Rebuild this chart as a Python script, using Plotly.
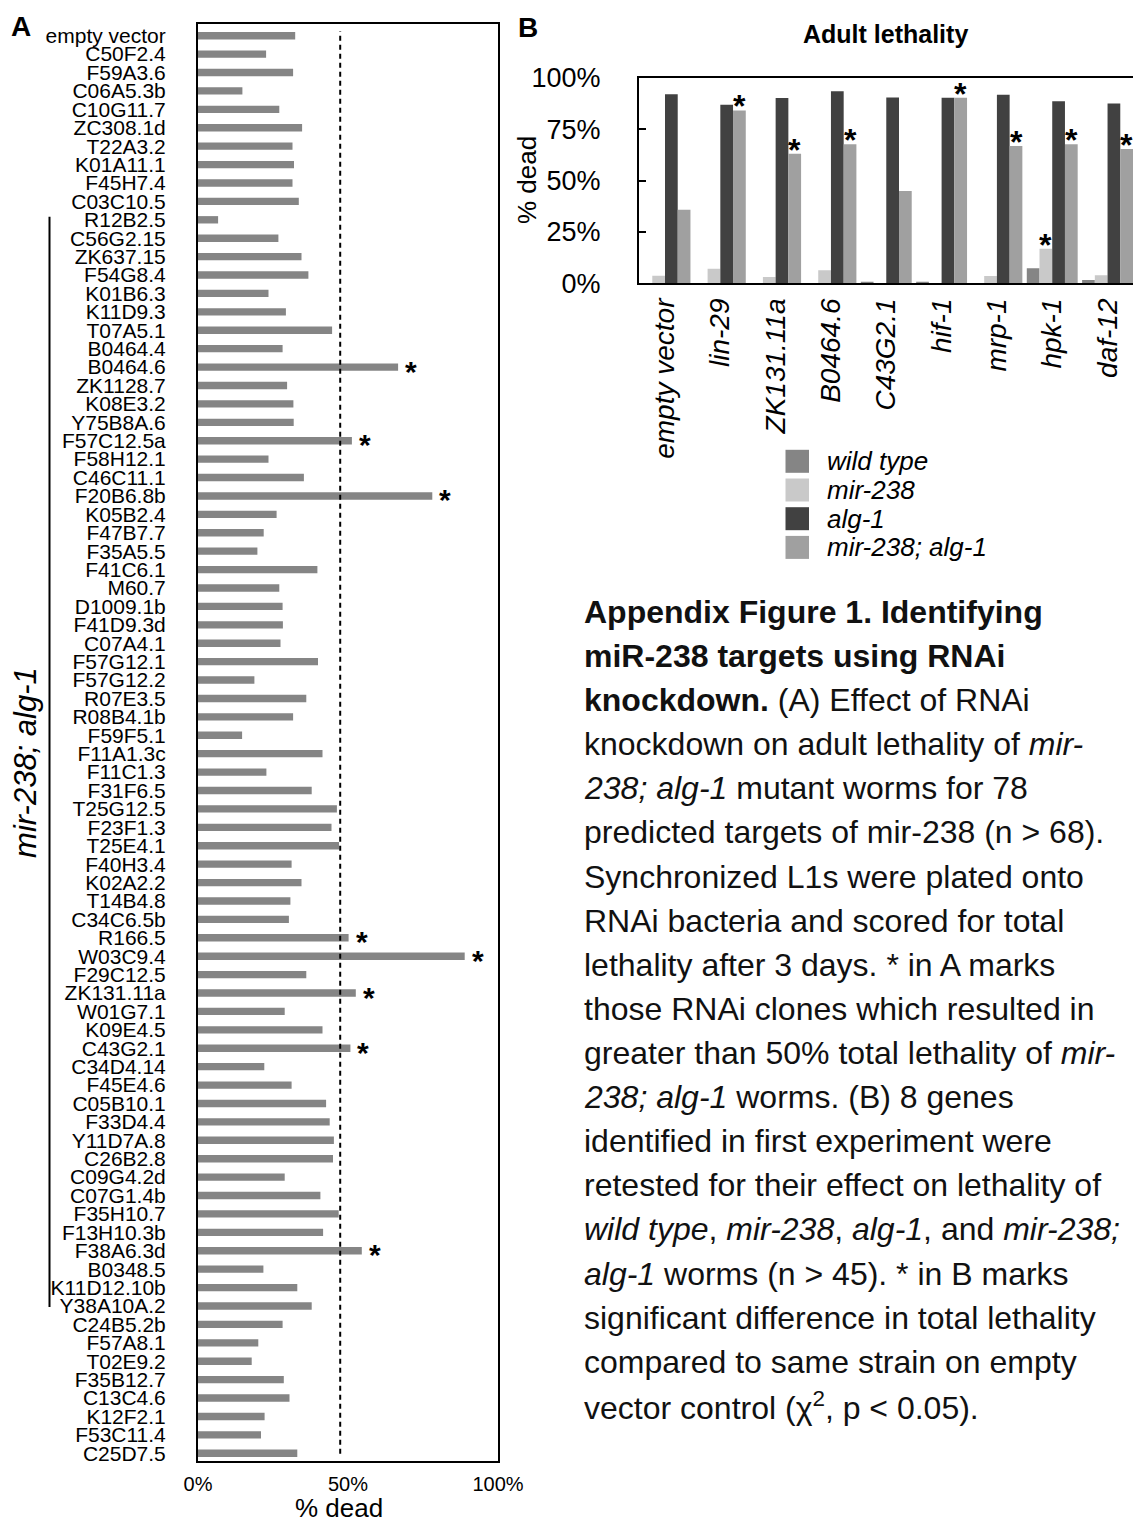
import plotly.graph_objects as go

# ---------------- Panel A: RNAi screen in mir-238; alg-1 ----------------
genes = [
    "empty vector", "C50F2.4", "F59A3.6", "C06A5.3b", "C10G11.7", "ZC308.1d",
    "T22A3.2", "K01A11.1", "F45H7.4", "C03C10.5", "R12B2.5", "C56G2.15",
    "ZK637.15", "F54G8.4", "K01B6.3", "K11D9.3", "T07A5.1", "B0464.4",
    "B0464.6", "ZK1128.7", "K08E3.2", "Y75B8A.6", "F57C12.5a", "F58H12.1",
    "C46C11.1", "F20B6.8b", "K05B2.4", "F47B7.7", "F35A5.5", "F41C6.1",
    "M60.7", "D1009.1b", "F41D9.3d", "C07A4.1", "F57G12.1", "F57G12.2",
    "R07E3.5", "R08B4.1b", "F59F5.1", "F11A1.3c", "F11C1.3", "F31F6.5",
    "T25G12.5", "F23F1.3", "T25E4.1", "F40H3.4", "K02A2.2", "T14B4.8",
    "C34C6.5b", "R166.5", "W03C9.4", "F29C12.5", "ZK131.11a", "W01G7.1",
    "K09E4.5", "C43G2.1", "C34D4.14", "F45E4.6", "C05B10.1", "F33D4.4",
    "Y11D7A.8", "C26B2.8", "C09G4.2d", "C07G1.4b", "F35H10.7", "F13H10.3b",
    "F38A6.3d", "B0348.5", "K11D12.10b", "Y38A10A.2", "C24B5.2b", "F57A8.1",
    "T02E9.2", "F35B12.7", "C13C4.6", "K12F2.1", "F53C11.4", "C25D7.5",
]
pct_dead = [
    32.4, 22.7, 31.7, 14.8, 27.1, 34.7,
    31.5, 32.0, 31.5, 33.6, 6.7, 26.8,
    34.5, 36.8, 23.5, 29.3, 44.7, 28.2,
    66.7, 29.7, 31.8, 31.9, 51.3, 23.5,
    35.3, 78.1, 26.2, 21.9, 19.8, 39.8,
    27.1, 28.2, 28.3, 27.5, 40.0, 18.8,
    36.1, 31.7, 14.7, 41.5, 22.8, 37.9,
    46.3, 44.5, 47.0, 31.2, 34.5, 30.8,
    30.3, 50.2, 88.9, 36.1, 52.6, 28.9,
    41.5, 50.8, 22.1, 31.2, 42.7, 43.9,
    45.3, 45.0, 28.9, 40.8, 46.9, 41.7,
    54.6, 21.8, 33.1, 37.9, 28.2, 20.1,
    17.9, 28.6, 30.5, 22.2, 21.0, 33.1,
]
# clones giving > 50% total lethality
hits_a = ["B0464.6", "F57C12.5a", "F20B6.8b", "R166.5", "W03C9.4",
          "ZK131.11a", "C43G2.1", "F38A6.3d"]
# clones grouped under the mir-238; alg-1 bracket
bracket_first, bracket_last = "R12B2.5", "Y38A10A.2"

# ---------------- Panel B: retest in four strains ----------------
rnai_clones = ["empty vector", "lin-29", "ZK131.11a", "B0464.6", "C43G2.1",
               "hif-1", "mrp-1", "hpk-1", "daf-12"]
strains = ["wild type", "mir-238", "alg-1", "mir-238; alg-1"]
wild_type = [0.0, 0.0, 0.0, 0.0, 0.5, 0.8, 0.0, 7.3, 1.6]
mir238 = [3.7, 7.1, 3.1, 6.3, 0.0, 0.0, 3.5, 16.8, 3.9]
alg1 = [91.9, 86.9, 90.1, 93.4, 90.4, 90.3, 91.7, 88.5, 87.4]
mir238_alg1 = [35.8, 84.1, 63.0, 67.6, 44.9, 90.3, 66.8, 67.6, 65.3]
# significant vs. empty vector of the same strain
sig_wild_type = [False] * 9
sig_mir238 = [False, False, False, False, False, False, False, True, False]
sig_alg1 = [False] * 9
sig_mir238_alg1 = [False, True, True, True, False, True, True, True, True]

strain_values = [wild_type, mir238, alg1, mir238_alg1]
strain_sig = [sig_wild_type, sig_mir238, sig_alg1, sig_mir238_alg1]
strain_colors = ["#858585", "#c9c9c9", "#414141", "#a0a0a0"]

W, H = 1133, 1523


def px_x(v):
    return v / W


def px_y(v):
    return 1 - v / H


SANS = "Liberation Sans, Arial, sans-serif"

fig = go.Figure()

# ---- Panel A bars ----
row_idx = list(range(len(genes)))
fig.add_trace(go.Bar(
    x=pct_dead, y=row_idx, orientation="h", width=0.4,
    marker=dict(color="#858585", line=dict(width=0)),
    xaxis="x", yaxis="y", showlegend=False, hoverinfo="skip",
))

# ---- Panel B grouped bars ----
for name, vals, col in zip(strains, strain_values, strain_colors):
    fig.add_trace(go.Bar(
        x=rnai_clones, y=vals, name=name,
        marker=dict(color=col, line=dict(width=0)),
        xaxis="x2", yaxis="y2", showlegend=False, hoverinfo="skip",
    ))

annotations = []
shapes = []

# significance stars, panel A
for g in hits_a:
    i = genes.index(g)
    annotations.append(dict(
        x=pct_dead[i], y=i, xref="x", yref="y", text="<b>*</b>", showarrow=False,
        xanchor="left", yanchor="middle", xshift=5, yshift=-4,
        font=dict(family=SANS, size=30, color="black"),
    ))

# significance stars, panel B (placed over the matching bar in each group)
n_series = len(strains)
bar_w = (1 - 0.08) / n_series
for j, (vals, sig) in enumerate(zip(strain_values, strain_sig)):
    for i, flag in enumerate(sig):
        if flag:
            annotations.append(dict(
                x=i + (j - (n_series - 1) / 2) * bar_w, y=vals[i],
                xref="x2", yref="y2", text="<b>*</b>", showarrow=False,
                xanchor="center", yanchor="bottom", yshift=-16,
                font=dict(family=SANS, size=32, color="black"),
            ))

# threshold guide in panel A
shapes.append(dict(
    type="line", xref="x", yref="y domain", x0=47.4, x1=47.4, y0=0.005, y1=0.995,
    line=dict(color="black", width=2, dash="5px,4px"),
))

# bracket marking the mir-238; alg-1 set
b0, b1 = genes.index(bracket_first), genes.index(bracket_last)
shapes.append(dict(
    type="line", xref="paper", yref="y", x0=px_x(49.5), x1=px_x(49.5),
    y0=b0 - 0.17, y1=b1 + 0.05, line=dict(color="black", width=2),
))
annotations.append(dict(
    x=px_x(26), y=(b0 + b1) / 2, xref="paper", yref="y",
    text="<i>mir-238; alg-1</i>", textangle=-90, showarrow=False,
    xanchor="center", yanchor="middle",
    font=dict(family=SANS, size=31, color="black"),
))

# panel letters and titles
annotations += [
    dict(x=px_x(21), y=px_y(26), xref="paper", yref="paper", text="<b>A</b>",
         showarrow=False, xanchor="center", yanchor="middle",
         font=dict(family=SANS, size=28, color="black")),
    dict(x=px_x(528), y=px_y(27), xref="paper", yref="paper", text="<b>B</b>",
         showarrow=False, xanchor="center", yanchor="middle",
         font=dict(family=SANS, size=28, color="black")),
    dict(x=px_x(885), y=px_y(34), xref="paper", yref="paper",
         text="<b>Adult lethality</b>", showarrow=False,
         xanchor="center", yanchor="middle",
         font=dict(family=SANS, size=25, color="black")),
    dict(x=px_x(339), y=px_y(1508), xref="paper", yref="paper",
         text="% dead", showarrow=False, xanchor="center", yanchor="middle",
         font=dict(family=SANS, size=26, color="black")),
    dict(x=px_x(527), y=px_y(180), xref="paper", yref="paper",
         text="% dead", textangle=-90, showarrow=False,
         xanchor="center", yanchor="middle",
         font=dict(family=SANS, size=26, color="black")),
]

# legend for panel B
leg_top = 461.3
leg_step = 28.7
for k, (name, col) in enumerate(zip(strains, strain_colors)):
    yc = leg_top + k * leg_step
    shapes.append(dict(
        type="rect", xref="paper", yref="paper",
        x0=px_x(785.5), x1=px_x(809), y0=px_y(yc - 11.5), y1=px_y(yc + 11.5),
        fillcolor=col, line=dict(width=0),
    ))
    annotations.append(dict(
        x=px_x(825), y=px_y(yc), xref="paper", yref="paper",
        text=f"<i>{name}</i>", showarrow=False, xanchor="left", yanchor="middle",
        font=dict(family=SANS, size=26, color="black"),
    ))

# figure legend text
caption = [
    "<b>Appendix Figure 1. Identifying</b>",
    "<b>miR-238 targets using RNAi</b>",
    "<b>knockdown.</b> (A) Effect of RNAi",
    "knockdown on adult lethality of <i>mir-</i>",
    "<i>238; alg-1</i> mutant worms for 78",
    "predicted targets of mir-238 (n &gt; 68).",
    "Synchronized L1s were plated onto",
    "RNAi bacteria and scored for total",
    "lethality after 3 days. * in A marks",
    "those RNAi clones which resulted in",
    "greater than 50% total lethality of <i>mir-</i>",
    "<i>238; alg-1</i> worms. (B) 8 genes",
    "identified in first experiment were",
    "retested for their effect on lethality of",
    "<i>wild type</i>, <i>mir-238</i>, <i>alg-1</i>, and <i>mir-238;</i>",
    "<i>alg-1</i> worms (n &gt; 45). * in B marks",
    "significant difference in total lethality",
    "compared to same strain on empty",
    "vector control (\u03c7<sup>2</sup>, p &lt; 0.05).",
]
for k, line in enumerate(caption):
    annotations.append(dict(
        x=px_x(582), y=px_y(612 + k * 44.1), xref="paper", yref="paper",
        text=line, showarrow=False, xanchor="left", yanchor="middle",
        font=dict(family=SANS, size=32, color="#111111"),
    ))

row_h = 18.41
first_c = 35.7
top_a, bot_a = 24.0, 1461.0

fig.update_layout(
    template="none",
    width=W, height=H,
    margin=dict(l=0, r=0, t=0, b=0, autoexpand=False),
    paper_bgcolor="white", plot_bgcolor="white",
    barmode="group", bargap=0.08, bargroupgap=0,
    annotations=annotations, shapes=shapes,
    xaxis=dict(
        domain=[px_x(198), px_x(498)], range=[0, 100], anchor="y",
        automargin=False,
        tickvals=[0, 50, 100], ticktext=["0%", "50%", "100%"],
        ticks="", showgrid=False, zeroline=False,
        showline=True, mirror=True, linecolor="black", linewidth=2,
        tickfont=dict(family=SANS, size=20, color="black"),
        ticklabelstandoff=4,
    ),
    yaxis=dict(
        domain=[px_y(bot_a), px_y(top_a)],
        range=[(bot_a - first_c) / row_h, (top_a - first_c) / row_h],
        anchor="x", automargin=False,
        tickmode="array", tickvals=row_idx, ticktext=genes,
        ticks="", showgrid=False, zeroline=False,
        showline=True, mirror=True, linecolor="black", linewidth=2,
        tickfont=dict(family=SANS, size=21, color="black"),
        ticklabelstandoff=26,
    ),
    xaxis2=dict(
        domain=[px_x(639), 1.0], range=[-0.47, 8.46], anchor="y2",
        automargin=False,
        type="category", ticks="", showgrid=False, zeroline=False,
        showline=True, mirror=True, linecolor="black", linewidth=2,
        tickangle=-90,
        tickfont=dict(family=SANS, size=28, color="black", style="italic"),
        ticklabelstandoff=2,
    ),
    yaxis2=dict(
        domain=[px_y(283.3), px_y(77.7)], range=[0, 100], anchor="x2",
        automargin=False,
        tickvals=[0, 25, 50, 75, 100],
        ticktext=["0%", "25%", "50%", "75%", "100%"],
        ticks="inside", ticklen=7, tickwidth=2, tickcolor="black",
        showgrid=False, zeroline=False,
        showline=True, linecolor="black", linewidth=2,
        tickfont=dict(family=SANS, size=27, color="black"),
        ticklabelstandoff=31,
    ),
)

fig.write_html("out.html")
